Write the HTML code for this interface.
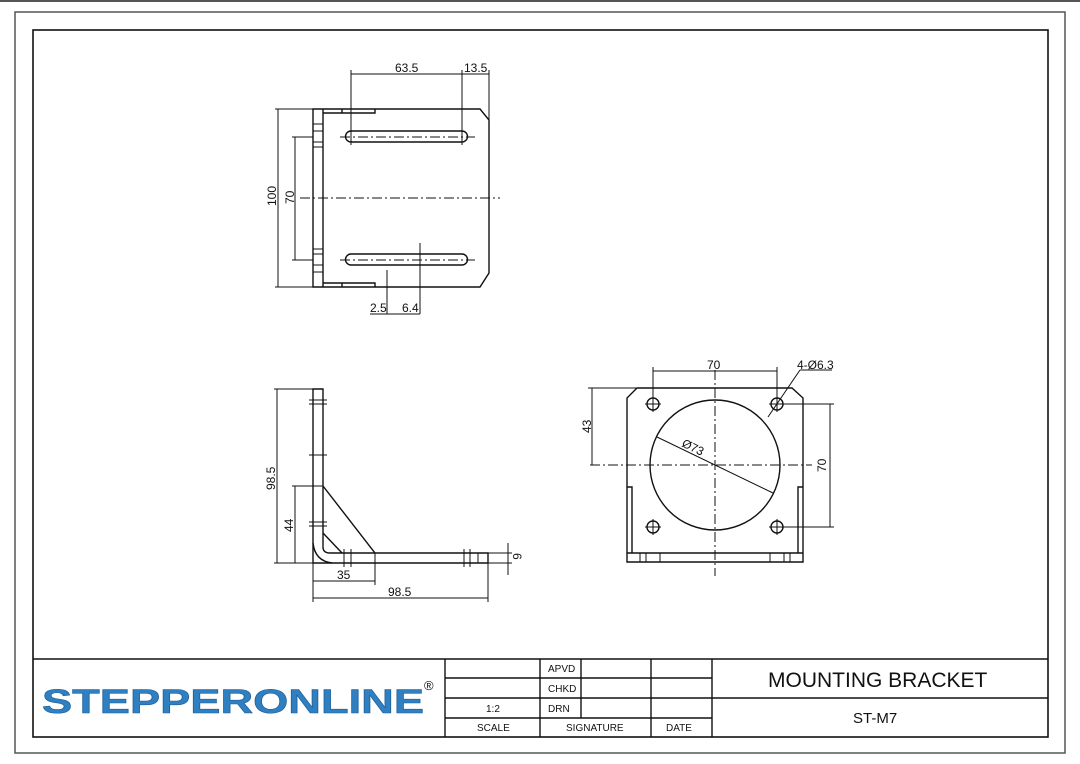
<!DOCTYPE html>
<html><head><style>
html,body{margin:0;padding:0;background:#fff}
svg{display:block}
text{font-family:"Liberation Sans",Arial,sans-serif;fill:#111}
</style></head><body>
<svg width="1080" height="764" viewBox="0 0 1080 764" xmlns="http://www.w3.org/2000/svg">
<rect width="1080" height="764" fill="#fff"/>
<line x1="0" y1="1" x2="1080" y2="1" stroke="#555" stroke-width="2"/>
<rect x="15" y="12" width="1050" height="741" fill="none" stroke="#555" stroke-width="1.5"/>
<rect x="33" y="30" width="1015" height="707" fill="none" stroke="#111" stroke-width="1.6"/>

<g fill="none" stroke="#111" stroke-width="1.4">
<!-- TOP VIEW -->
<path d="M313 109 V287 H480 L489 273 V120 L480 109 Z"/>
<line x1="323" y1="109" x2="323" y2="287"/>
<path d="M323 113 H375 V109 M342 109 V113"/>
<path d="M323 283 H375 V287 M342 283 V287"/>
<path d="M351 131 H462 A5.5 5.5 0 0 1 462 142 H351 A5.5 5.5 0 0 1 351 131 Z"/>
<path d="M351 254 H462 A5.5 5.5 0 0 1 462 265 H351 A5.5 5.5 0 0 1 351 254 Z"/>
<path d="M313 124 H323 M313 131 H323 M313 142 H323 M313 147 H323 M313 249 H323 M313 254 H323 M313 265 H323 M313 272 H323" stroke-width="1"/>
<g stroke-dasharray="10 3 2 3" stroke-width="1">
<line x1="300" y1="198" x2="500" y2="198"/>
<line x1="340" y1="137" x2="475" y2="137"/>
<line x1="340" y1="260" x2="475" y2="260"/>
</g>
<g stroke-width="1">
<line x1="351" y1="70" x2="351" y2="145"/>
<line x1="462" y1="70" x2="462" y2="145"/>
<line x1="489" y1="70" x2="489" y2="120"/>
<line x1="351" y1="74" x2="489" y2="74"/>
<line x1="275" y1="109" x2="313" y2="109"/>
<line x1="275" y1="287" x2="313" y2="287"/>
<line x1="278" y1="109" x2="278" y2="287"/>
<line x1="292" y1="137" x2="313" y2="137"/>
<line x1="292" y1="260" x2="313" y2="260"/>
<line x1="295" y1="137" x2="295" y2="260"/>
<line x1="387" y1="270" x2="387" y2="314"/>
<line x1="420" y1="243" x2="420" y2="314"/>
<line x1="370" y1="314" x2="420" y2="314"/>
</g>

<!-- SIDE VIEW -->
<path d="M313 389 H323 V486 L375 553 H488 V563 H313 Z"/>
<path d="M323 486 V547 Q323 553 330 553 H375"/>
<path d="M323 533 L342 553"/>
<path d="M313 543 Q315 561 332 563"/>
<path d="M309 400 H327 M309 404 H327 M309 455 H327 M309 522 H327 M309 526 H327 M344 549 V567 M351 549 V567 M464 549 V567 M470 549 V567 M478 553 V563" stroke-width="1"/>
<g stroke-width="1">
<line x1="274" y1="389" x2="313" y2="389"/>
<line x1="274" y1="563" x2="313" y2="563"/>
<line x1="277" y1="389" x2="277" y2="563"/>
<line x1="292" y1="486" x2="323" y2="486"/>
<line x1="295" y1="486" x2="295" y2="563"/>
<line x1="313" y1="563" x2="313" y2="602"/>
<line x1="375" y1="553" x2="375" y2="585"/>
<line x1="488" y1="563" x2="488" y2="602"/>
<line x1="313" y1="581" x2="375" y2="581"/>
<line x1="313" y1="598" x2="488" y2="598"/>
<line x1="488" y1="553" x2="512" y2="553"/>
<line x1="488" y1="563" x2="512" y2="563"/>
<line x1="508" y1="543" x2="508" y2="575"/>
</g>

<!-- FRONT VIEW -->
<path d="M637 388 H792 L803 398 V562 H627 V398 Z"/>
<line x1="627" y1="553" x2="803" y2="553"/>
<path d="M627 487 H632 V553 M803 487 H798 V553"/>
<path d="M640 553 V562 M646 553 V562 M660 553 V562 M770 553 V562 M784 553 V562 M790 553 V562" stroke-width="1"/>
<circle cx="715" cy="465" r="65"/>
<circle cx="653" cy="404" r="6"/>
<circle cx="777" cy="404" r="6"/>
<circle cx="653" cy="527" r="6"/>
<circle cx="777" cy="527" r="6"/>
<g stroke-width="1">
<path d="M645 404 H661 M653 396 V412 M769 404 H785 M777 396 V412 M645 527 H661 M653 519 V535 M769 527 H785 M777 519 V535"/>
<line x1="715" y1="370" x2="715" y2="576" stroke-dasharray="10 3 2 3"/>
<line x1="590" y1="465" x2="812" y2="465" stroke-dasharray="10 3 2 3"/>
<line x1="653" y1="367" x2="653" y2="398"/>
<line x1="777" y1="367" x2="777" y2="398"/>
<line x1="653" y1="371" x2="777" y2="371"/>
<line x1="588" y1="388" x2="637" y2="388"/>
<line x1="592" y1="388" x2="592" y2="465"/>
<line x1="783" y1="404" x2="834" y2="404"/>
<line x1="783" y1="527" x2="834" y2="527"/>
<line x1="830" y1="404" x2="830" y2="527"/>
<line x1="768" y1="417" x2="800" y2="370"/>
<line x1="800" y1="370" x2="832" y2="370"/>
<line x1="657" y1="437" x2="773" y2="493"/>
</g>

<!-- TITLE BLOCK -->
<line x1="33" y1="659" x2="1048" y2="659" stroke-width="1.6"/>
<line x1="445" y1="659" x2="445" y2="737"/>
<line x1="540" y1="659" x2="540" y2="737"/>
<line x1="581" y1="659" x2="581" y2="718"/>
<line x1="651" y1="659" x2="651" y2="737"/>
<line x1="712" y1="659" x2="712" y2="737"/>
<line x1="445" y1="678" x2="712" y2="678"/>
<line x1="445" y1="698" x2="1048" y2="698"/>
<line x1="445" y1="718" x2="712" y2="718"/>
</g>

<!-- text -->
<g font-size="12">
<text x="395" y="72">63.5</text>
<text x="464" y="72">13.5</text>
<text transform="translate(276,206) rotate(-90)">100</text>
<text transform="translate(294,204) rotate(-90)">70</text>
<text x="370" y="312">2.5</text>
<text x="402" y="312">6.4</text>
<text transform="translate(275,490) rotate(-90)">98.5</text>
<text transform="translate(293,532) rotate(-90)">44</text>
<text x="337" y="579">35</text>
<text x="388" y="596">98.5</text>
<text transform="translate(513,553) rotate(90)">6</text>
<text x="707" y="369">70</text>
<text x="797" y="369">4-Ø6.3</text>
<text transform="translate(591,433) rotate(-90)">43</text>
<text transform="translate(826,472) rotate(-90)">70</text>
<text transform="translate(681,446) rotate(26)">Ø73</text>
</g>
<g font-size="10">
<text x="548" y="672">APVD</text>
<text x="548" y="692">CHKD</text>
<text x="548" y="712">DRN</text>
<text x="486" y="712">1:2</text>
<text x="477" y="731">SCALE</text>
<text x="566" y="731">SIGNATURE</text>
<text x="666" y="731">DATE</text>
</g>
<text x="768" y="687" font-size="21">MOUNTING BRACKET</text>
<text x="853" y="723" font-size="15">ST-M7</text>
<text x="42" y="713" font-size="34" font-weight="bold" textLength="382" lengthAdjust="spacingAndGlyphs" style="fill:#2f7fc1;stroke:#1d5e99;stroke-width:0.6">STEPPERONLINE</text>
<text x="424" y="690" font-size="13">®</text>
</svg>
</body></html>
